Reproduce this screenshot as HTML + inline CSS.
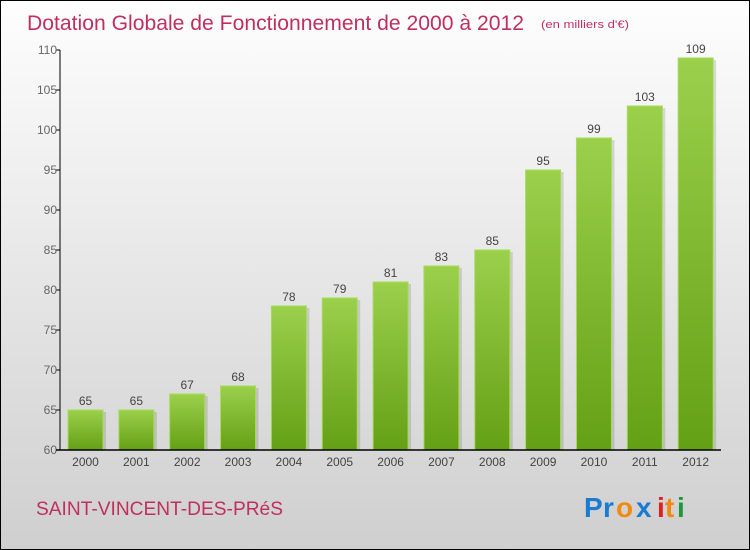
<!DOCTYPE html>
<html><head><meta charset="utf-8"><style>
body{margin:0}
#c{width:750px;height:550px;position:relative;box-sizing:border-box;border:1px solid #000;background:linear-gradient(#fefefe,#cfcfcf);font-family:"Liberation Sans",sans-serif;overflow:hidden}
</style></head><body>
<div id="c">
<svg width="750" height="550" style="position:absolute;left:-1px;top:-1px">
<defs><linearGradient id="g" x1="0" y1="0" x2="0" y2="1"><stop offset="0" stop-color="#9bd04c"/><stop offset="1" stop-color="#64a015"/></linearGradient></defs>
<text x="27" y="30" font-size="21" fill="#c0305e" textLength="497" lengthAdjust="spacingAndGlyphs">Dotation Globale de Fonctionnement de 2000 à 2012</text>
<text x="541" y="28" font-size="11" fill="#c0305e" textLength="88" lengthAdjust="spacingAndGlyphs">(en milliers d'€)</text>
<g id="plot"></g>
<text x="36" y="515" font-size="19" fill="#c0305e" textLength="247" lengthAdjust="spacingAndGlyphs">SAINT-VINCENT-DES-PRéS</text>
<g font-size="28" font-weight="bold">
<text x="584" y="517" fill="#1a7bd0">P</text><text x="603" y="517" fill="#1a7bd0">r</text><text x="616" y="517" fill="#f08a10">o</text><text x="636" y="517" fill="#1a7bd0">x</text><text x="657" y="517" fill="#e02020">i</text><text x="665" y="517" fill="#f08a10">t</text><text x="677" y="517" fill="#1a9a3a">i</text>
</g>
</svg>
</div>
<script>
const years=["2000","2001","2002","2003","2004","2005","2006","2007","2008","2009","2010","2011","2012"];
const values=[65,65,67,68,78,79,81,83,85,95,99,103,109];
const yTicks=[60,65,70,75,80,85,90,95,100,105,110];
const NS="http://www.w3.org/2000/svg";
const plot=document.getElementById('plot');
const x0=60,x1=721,yTop=50,yBot=450,yMin=60,yMax=110;
const band=(x1-x0)/years.length;
const y=v=>yBot-(v-yMin)/(yMax-yMin)*(yBot-yTop);
function mk(t,a){const e=document.createElementNS(NS,t);for(const k in a)e.setAttribute(k,a[k]);plot.appendChild(e);return e;}
yTicks.forEach(t=>{
 const l=mk('line',{x1:x0-4,x2:x0,y1:y(t),y2:y(t),stroke:'#000'});
 
 
 const tx=mk('text',{x:x0-3,y:y(t)+4,'font-size':12,fill:'#666','text-anchor':'end'});
 tx.textContent=t;
 
 
});
years.forEach((yr,i)=>{
 const bx=x0+i*band+8,bw=35,v=values[i];
 const sh=mk('rect',{x:bx+3,y:y(v)+2,width:bw,height:yBot-y(v)-2,fill:'#000',opacity:0.12});
 
 
 const r=mk('rect',{x:bx,y:y(v),width:bw,height:yBot-y(v),fill:'url(#g)',stroke:'#a6dc5a','stroke-width':1});
 
 
 const vl=mk('text',{x:bx+bw/2,y:y(v)-5,'font-size':12,fill:'#444','text-anchor':'middle'});
 vl.textContent=v;
 
 
 const xl=mk('text',{x:bx+bw/2,y:yBot+16,'font-size':12,fill:'#444','text-anchor':'middle'});
 xl.textContent=yr;
 
 
});
const ya=mk('line',{x1:x0,x2:x0,y1:yTop,y2:yBot,stroke:'#000'});


const xa=mk('line',{x1:x0-4,x2:x1,y1:yBot,y2:yBot,stroke:'#000','stroke-width':1.5});


</script>
</body></html>
